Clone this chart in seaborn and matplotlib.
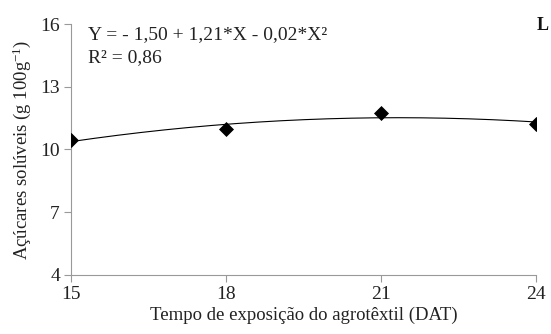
import numpy as np
import matplotlib
matplotlib.use("Agg")
import matplotlib.pyplot as plt
import seaborn as sns

days = [15, 18, 21, 24]
sugars = [10.45, 10.98, 11.74, 11.24]
xticks = [15, 18, 21, 24]
yticks = [4, 7, 10, 13, 16]

sns.set_theme(style="white")
plt.rcParams['font.family'] = ['Liberation Serif', 'DejaVu Serif']
plt.rcParams['mathtext.fontset'] = 'custom'
plt.rcParams['mathtext.rm'] = 'Liberation Serif'
plt.rcParams['mathtext.it'] = 'Liberation Serif'

fig, ax = plt.subplots(figsize=(5.51, 3.34), dpi=100)
fig.subplots_adjust(left=0.129, right=0.973, top=0.928, bottom=0.177)

coef = np.polyfit(days, sugars, 2)
xs = np.linspace(15, 24, 200)
sns.lineplot(x=xs, y=np.polyval(coef, xs), ax=ax, color='black', linewidth=0.8)
sns.scatterplot(x=days, y=sugars, ax=ax, marker='D', s=50, color='black', edgecolor='black', zorder=5)

ax.set_xlim(15, 24)
ax.set_ylim(4, 16)
ax.set_xticks(xticks)
ax.set_yticks(yticks)
ax.tick_params(axis='both', labelsize=14, length=5, width=0.8, color='#999999', direction='out', pad=3)
ax.tick_params(axis='x', bottom=True)
ax.tick_params(axis='y', left=True)
for s in ['top', 'right']:
    ax.spines[s].set_visible(False)
for s in ['left', 'bottom']:
    ax.spines[s].set_color('#999999')
    ax.spines[s].set_linewidth(0.8)
for lab in ax.get_xticklabels() + ax.get_yticklabels():
    lab.set_color('#222222')

ax.set_xlabel('Tempo de exposição do agrotêxtil (DAT)', fontsize=13.5, color='#222222', labelpad=3)
ax.set_ylabel('Açúcares solúveis (g 100g$^{\\mathrm{-1}}$)', fontsize=13.5, color='#222222', labelpad=5)

ax.text(0.037, 0.99, 'Y = - 1,50 + 1,21*X - 0,02*X²', transform=ax.transAxes, fontsize=14, va='top', ha='left', color='#222222')
ax.text(0.037, 0.90, 'R² = 0,86', transform=ax.transAxes, fontsize=14, va='top', ha='left', color='#222222')
fig.text(0.995, 0.91, 'L', fontsize=13, fontweight='bold', ha='right', va='baseline', color='#111111')

fig.savefig('out.png', dpi=100)
